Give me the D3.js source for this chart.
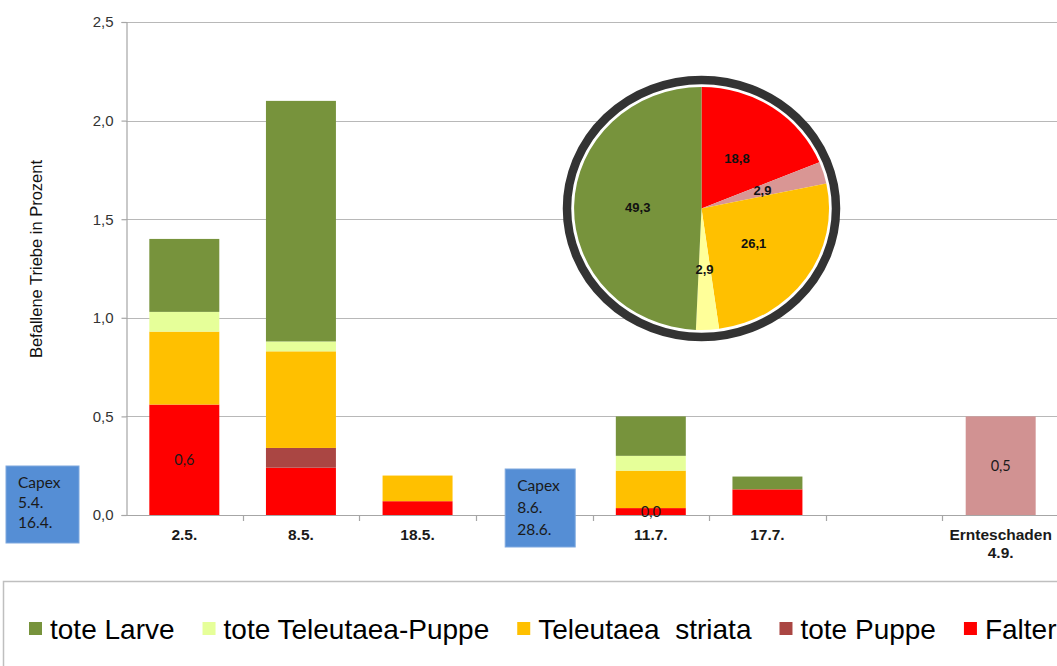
<!DOCTYPE html>
<html>
<head>
<meta charset="utf-8">
<script src="https://cdn.jsdelivr.net/npm/d3@7"></script>
<style>
  body { margin: 0; background: #fff; }
  svg { display: block; font-family: "Liberation Sans", Arial, sans-serif; }
</style>
</head>
<body>
<svg id="chart" width="1057" height="666"></svg>
<script>
// categories (two empty slots keep the spacing of the original)
var categoryKeys = ["c1", "c2", "c3", "gap1", "c4", "c5", "gap2", "c6"];
var categoryLabels = [["2.5."], ["8.5."], ["18.5."], [], ["11.7."], ["17.7."], [], ["Ernteschaden", "4.9."]];

// stacked series, bottom to top
var falter      = [0.56, 0.24, 0.07, 0, 0.035, 0.13, 0, 0];
var totePuppe   = [0, 0.10, 0, 0, 0, 0, 0, 0];
var teleutaea   = [0.37, 0.49, 0.13, 0, 0.19, 0, 0, 0];
var toteTPuppe  = [0.10, 0.05, 0, 0, 0.075, 0, 0, 0];
var toteLarve   = [0.37, 1.22, 0, 0, 0.20, 0.065, 0, 0];
var ernteschaden = [0, 0, 0, 0, 0, 0, 0, 0.5];

var falterLabelShown = [true, false, false, false, true, false, false, false];

var seriesNames  = ["Falter", "tote Puppe", "Teleutaea  striata", "tote Teleutaea-Puppe", "tote Larve"];
var seriesColors = ["#FF0000", "#AA4643", "#FFC000", "#E6FF99", "#77933C"];
var ernteColor = "#D19292";

var yTicks = [0, 0.5, 1.0, 1.5, 2.0, 2.5];

// pie: share in percent, clockwise from 12 o'clock
var piePct    = [18.8, 2.9, 26.1, 2.9, 49.3];
var pieColors = ["#FF0000", "#D99694", "#FFC000", "#FFFF99", "#77933C"];

var capexNotes = [["Capex", "5.4.", "16.4."], ["Capex", "8.6.", "28.6."]];

var legendOrder = [4, 3, 2, 1, 0];

var svg = d3.select("#chart");
var fmt = function(v) { return d3.format(".1f")(v).replace(".", ","); };

var x = d3.scaleBand()
    .domain(categoryKeys)
    .range([126, 1059])
    .paddingInner(0.4)
    .paddingOuter(0.2);

var y = d3.scaleLinear()
    .domain([0, 2.5])
    .range([515, 22]);

// gridlines
svg.append("g")
    .selectAll("line")
    .data(yTicks.slice(1))
    .enter().append("line")
    .attr("x1", 126).attr("x2", 1057)
    .attr("y1", function(d) { return Math.round(y(d)) + 0.5; })
    .attr("y2", function(d) { return Math.round(y(d)) + 0.5; })
    .style("stroke", "#B8B8B8")
    .style("stroke-width", 1.2);

// y axis
var yAxis = svg.append("g")
    .attr("transform", "translate(126.5,0)")
    .call(d3.axisLeft(y).tickValues(yTicks).tickSize(5).tickPadding(8).tickFormat(fmt));
yAxis.select(".domain").style("stroke", "#A6A6A6").style("stroke-width", 1.2);
yAxis.selectAll(".tick line").style("stroke", "#A6A6A6").style("stroke-width", 1.2);
yAxis.selectAll("text")
    .style("font-size", "15px")
    .style("fill", "#333")
    .style("font-family", "'Liberation Sans', Arial, sans-serif");

// x axis line with ticks at band boundaries
svg.append("line")
    .attr("x1", 126).attr("x2", 1057)
    .attr("y1", 515.5).attr("y2", 515.5)
    .style("stroke", "#A6A6A6").style("stroke-width", 1.2);

svg.append("g")
    .selectAll("line")
    .data(categoryKeys.slice(1))
    .enter().append("line")
    .attr("x1", function(d) { return Math.round(x(d) - x.step() * x.paddingInner() / 2) + 0.5; })
    .attr("x2", function(d) { return Math.round(x(d) - x.step() * x.paddingInner() / 2) + 0.5; })
    .attr("y1", 515).attr("y2", 521)
    .style("stroke", "#A6A6A6").style("stroke-width", 1.2);

// stacked bars
var table = categoryKeys.map(function(k, i) {
    return { key: k, s0: falter[i], s1: totePuppe[i], s2: teleutaea[i], s3: toteTPuppe[i], s4: toteLarve[i] };
});
var stack = d3.stack().keys(["s0", "s1", "s2", "s3", "s4"]);
var layers = stack(table);

svg.append("g")
    .selectAll("g")
    .data(layers)
    .enter().append("g")
    .style("fill", function(d, i) { return seriesColors[i]; })
    .selectAll("rect")
    .data(function(d) { return d; })
    .enter().append("rect")
    .filter(function(d) { return d[1] - d[0] > 0; })
    .attr("x", function(d) { return x(d.data.key); })
    .attr("width", x.bandwidth())
    .attr("y", function(d) { return y(d[1]); })
    .attr("height", function(d) { return y(d[0]) - y(d[1]); });

// Ernteschaden bar
svg.append("g")
    .selectAll("rect")
    .data(ernteschaden.map(function(v, i) { return { key: categoryKeys[i], v: v }; }).filter(function(d) { return d.v > 0; }))
    .enter().append("rect")
    .attr("x", function(d) { return x(d.key); })
    .attr("width", x.bandwidth())
    .attr("y", function(d) { return y(d.v); })
    .attr("height", function(d) { return y(0) - y(d.v); })
    .style("fill", ernteColor);

// value labels
var valueLabels = [];
falter.forEach(function(v, i) {
    if (falterLabelShown[i]) valueLabels.push({ key: categoryKeys[i], lo: 0, hi: v });
});
ernteschaden.forEach(function(v, i) {
    if (v > 0) valueLabels.push({ key: categoryKeys[i], lo: 0, hi: v });
});
svg.append("g")
    .selectAll("text")
    .data(valueLabels)
    .enter().append("text")
    .attr("x", function(d) { return x(d.key) + x.bandwidth() / 2; })
    .attr("y", function(d) { return (y(d.lo) + y(d.hi)) / 2 + 5; })
    .attr("text-anchor", "middle")
    .style("font-family", "Lato, 'Open Sans', sans-serif")
    .style("font-size", "14.5px")
    .style("fill", "#1a1a1a")
    .text(function(d) { return fmt(d.hi); });

// category labels
var catG = svg.append("g")
    .selectAll("text")
    .data(categoryKeys)
    .enter().append("text")
    .attr("x", function(d) { return x(d) + x.bandwidth() / 2; })
    .attr("y", 540)
    .attr("text-anchor", "middle")
    .style("font-size", "15.5px")
    .style("font-weight", "bold")
    .style("fill", "#1a1a1a");
catG.selectAll("tspan")
    .data(function(d, i) { return categoryLabels[i]; })
    .enter().append("tspan")
    .attr("x", function() { var p = this.parentNode; return p.getAttribute("x"); })
    .attr("dy", function(d, j) { return j ? 18 : 0; })
    .text(function(d) { return d; });

// y axis title
svg.append("text")
    .attr("transform", "translate(42,259) rotate(-90)")
    .attr("text-anchor", "middle")
    .style("font-size", "16.5px")
    .style("fill", "#111")
    .text("Befallene Triebe in Prozent");

// pie
var pieCx = 701.5, pieCy = 208.5, pieRx = 127.5, pieRy = 121.5;
var pie = d3.pie().sort(null).value(function(d) { return d; });
var arcs = pie(piePct);
var arcUnit = d3.arc().innerRadius(0).outerRadius(1);
var arcLabel = d3.arc().innerRadius(0.5).outerRadius(0.5);

var pieG = svg.append("g")
    .attr("transform", "translate(" + pieCx + "," + pieCy + ")");

pieG.append("ellipse")
    .attr("rx", pieRx + 7).attr("ry", pieRy + 7)
    .style("fill", "#fff")
    .style("stroke", "#333")
    .style("stroke-width", 8.5);

pieG.append("g")
    .attr("transform", "scale(" + pieRx + "," + pieRy + ")")
    .selectAll("path")
    .data(arcs)
    .enter().append("path")
    .attr("d", arcUnit)
    .style("fill", function(d, i) { return pieColors[i]; });

pieG.append("g")
    .selectAll("text")
    .data(arcs)
    .enter().append("text")
    .attr("x", function(d) { return arcLabel.centroid(d)[0] * pieRx; })
    .attr("y", function(d) { return arcLabel.centroid(d)[1] * pieRy + 4.5; })
    .attr("text-anchor", "middle")
    .style("font-size", "13px")
    .style("font-weight", "bold")
    .style("fill", "#111")
    .text(function(d) { return fmt(d.data); });

// Capex notes
var capexBoxes = [
    { x: 6, y: 466, w: 73, h: 77, lh: 20 },
    { x: x("gap1") + x.bandwidth() / 2 - 29, y: 469, w: 70, h: 78, lh: 22 }
];
capexBoxes.forEach(function(b, i) {
    var g = svg.append("g").attr("transform", "translate(" + b.x + "," + b.y + ")");
    g.append("rect")
        .attr("width", b.w).attr("height", b.h)
        .style("fill", "#558ED5")
        .style("stroke", "#7FA8DE")
        .style("stroke-width", 1);
    g.selectAll("text")
        .data(capexNotes[i])
        .enter().append("text")
        .attr("x", 12)
        .attr("y", function(d, j) { return 22 + j * b.lh; })
        .style("font-family", "Lato, 'Open Sans', sans-serif")
        .style("font-size", "15.5px")
        .style("fill", "#1a1a1a")
        .text(function(d) { return d; });
});

// legend
svg.append("rect")
    .attr("x", 3.5).attr("y", 581.5)
    .attr("width", 1060).attr("height", 100)
    .style("fill", "none")
    .style("stroke", "#BFBFBF")
    .style("stroke-width", 1.5);

var legX = 29;
legendOrder.forEach(function(si) {
    svg.append("rect")
        .attr("x", legX).attr("y", 622)
        .attr("width", 13).attr("height", 13)
        .style("fill", seriesColors[si]);
    var t = svg.append("text")
        .attr("x", legX + 21).attr("y", 639)
        .style("font-size", "28px")
        .style("fill", "#000")
        .style("white-space", "pre")
        .attr("xml:space", "preserve")
        .text(seriesNames[si]);
    legX += 21 + t.node().getComputedTextLength() + 28;
});
</script>
</body>
</html>
